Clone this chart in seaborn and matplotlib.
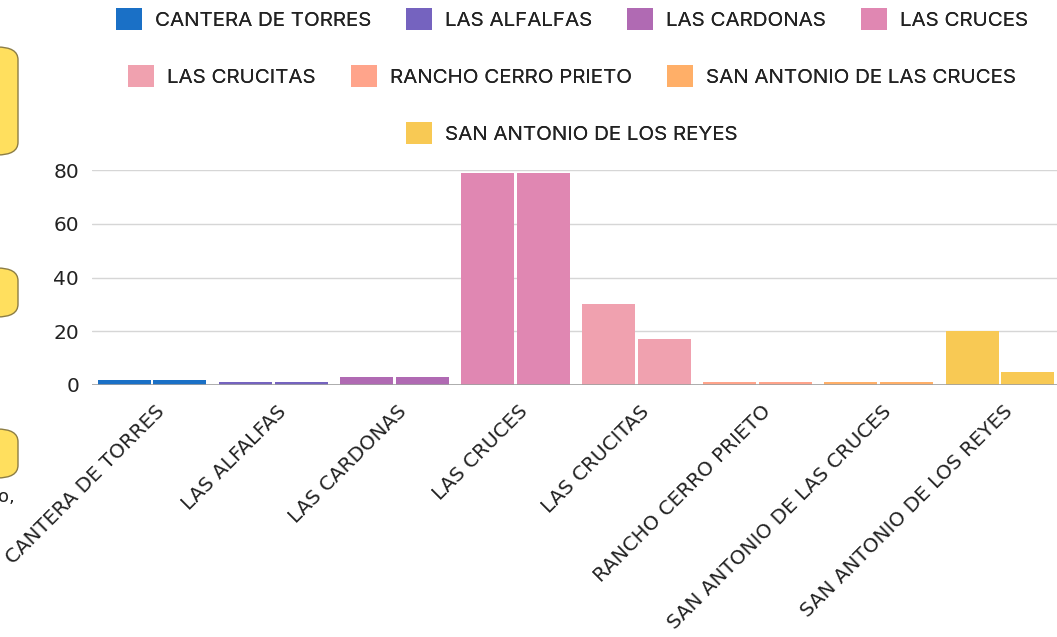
import numpy as np
import pandas as pd
import matplotlib.pyplot as plt
import seaborn as sns
from matplotlib.patches import Patch, FancyBboxPatch
from matplotlib.transforms import ScaledTranslation

# ── Datos ─────────────────────────────────────────────────────
COMUNIDADES = ['CANTERA DE TORRES', 'LAS ALFALFAS', 'LAS CARDONAS', 'LAS CRUCES',
               'LAS CRUCITAS', 'RANCHO CERRO PRIETO', 'SAN ANTONIO DE LAS CRUCES',
               'SAN ANTONIO DE LOS REYES']
SERIE_1 = [2, 1, 3, 79, 30, 1, 1, 20]
SERIE_2 = [2, 1, 3, 79, 17, 1, 1, 5]
COLORES = ['#1a70c6', '#7563bf', '#b06ab3', '#e087b2',
           '#f0a1af', '#ffa48b', '#ffaf68', '#f8c954']
FILAS_LEYENDA = [COMUNIDADES[0:4], COMUNIDADES[4:7], COMUNIDADES[7:8]]

df = pd.DataFrame({
    'comunidad': COMUNIDADES * 2,
    'serie': ['s1'] * len(COMUNIDADES) + ['s2'] * len(COMUNIDADES),
    'valor': SERIE_1 + SERIE_2,
})

sns.set_theme(style='whitegrid')
plt.rcParams['font.family'] = ['DejaVu Sans']

fig = plt.figure(figsize=(10.57, 6.37), dpi=100)
ax = fig.add_axes([91.5 / 1057, 252 / 637, 969 / 1057, 215 / 637])

sns.barplot(data=df, x='comunidad', y='valor', hue='serie', order=COMUNIDADES,
            width=0.92, gap=0.05, legend=False, ax=ax, linewidth=0)
for cont in ax.containers:
    for i, barra in enumerate(cont):
        barra.set_facecolor(COLORES[i])
        barra.set_edgecolor('none')

ax.set_ylim(0, 80)
ax.set_xlim(-0.5, len(COMUNIDADES) - 0.5)
ax.set_yticks([0, 20, 40, 60, 80])
ax.set_xlabel('')
ax.set_ylabel('')
ax.grid(axis='y', color='#d6d6d6', linewidth=1)
ax.grid(axis='x', visible=False)
for s in ax.spines.values():
    s.set_visible(False)
ax.axhline(0, color='#a0a0a0', linewidth=1.2, zorder=3)
ax.tick_params(axis='y', length=0, pad=9, labelsize=14.5, labelcolor='#222222')
ax.tick_params(axis='x', length=0, pad=2, labelsize=14.3, labelcolor='#222222')

ax.set_xticks(range(len(COMUNIDADES)))
ax.set_xticklabels(COMUNIDADES, rotation=45, ha='right', va='top',
                   rotation_mode='anchor')
desplaza = ScaledTranslation(3 / 100, -14 / 100, fig.dpi_scale_trans)
for lbl in ax.get_xticklabels():
    lbl.set_transform(lbl.get_transform() + desplaza)

# ── Leyenda en tres filas centradas ───────────────────────────
fs = 14.8
fs_px = fs * 100 / 72
y_filas = [1 - 19 / 637, 1 - 76 / 637, 1 - 133 / 637]
for fila, yf in zip(FILAS_LEYENDA, y_filas):
    handles = [Patch(facecolor=COLORES[COMUNIDADES.index(c)], edgecolor='none')
               for c in fila]
    leg = fig.legend(handles, fila, loc='center', bbox_to_anchor=(572 / 1057, yf),
                     ncol=len(fila), frameon=False,
                     handlelength=26 / fs_px, handleheight=26 / fs_px,
                     handletextpad=13 / fs_px, columnspacing=35 / fs_px,
                     borderpad=0, borderaxespad=0,
                     prop={'family': ['Inter', 'DejaVu Sans'], 'size': fs})
    for t in leg.get_texts():
        t.set_color('#222222')
    fig.add_artist(leg)

# ── Recortes de la interfaz a la izquierda ────────────────────
for y0, y1 in [(47, 155), (268, 317), (429, 478)]:
    caja = FancyBboxPatch((-30 / 1057, 1 - y1 / 637), 48 / 1057, (y1 - y0) / 637,
                          boxstyle='round,pad=0,rounding_size=0.02',
                          transform=fig.transFigure, facecolor='#ffdf5e',
                          edgecolor='#8c7d45', linewidth=1, clip_on=False)
    fig.add_artist(caja)
fig.text(-2 / 1057, 1 - 497 / 637, 'o,', fontsize=13, color='#222222',
         ha='left', va='center')

plt.savefig('out.png', dpi=100)
